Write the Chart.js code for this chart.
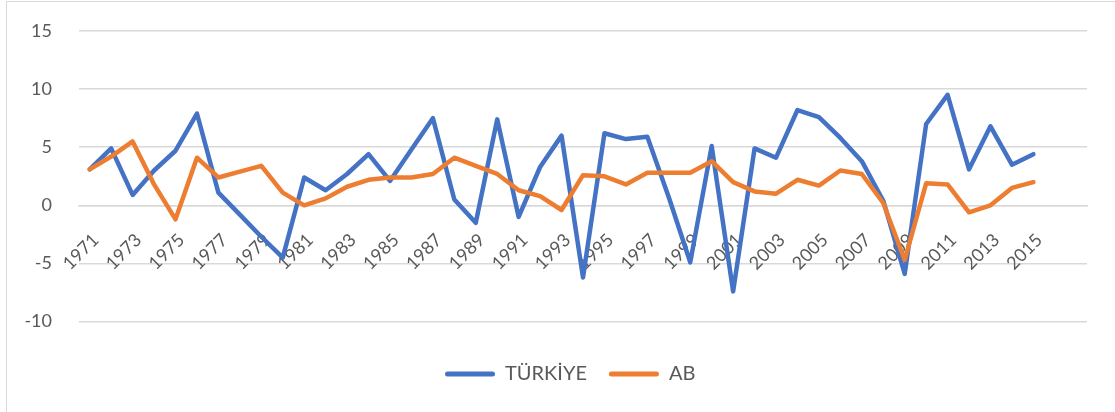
<!DOCTYPE html>
<html>
<head>
<meta charset="utf-8">
<script src="https://cdn.jsdelivr.net/npm/chart.js@4/dist/chart.umd.min.js"></script>
<style>
  html, body { margin: 0; padding: 0; background: #fff; overflow: hidden; }
  #wrap { position: relative; width: 1115px; height: 412px; }
  #frame { position: absolute; left: 6px; top: 1px; width: 1200px; height: 500px; border: 1px solid #d9d9d9; }
</style>
</head>
<body>
<div id="wrap">
  <div id="frame"></div>
  <canvas id="myChart"></canvas>
</div>
<script>
const years = [
  '1971', '1972', '1973', '1974', '1975', '1976', '1977', '1978', '1979', '1980',
  '1981', '1982', '1983', '1984', '1985', '1986', '1987', '1988', '1989', '1990',
  '1991', '1992', '1993', '1994', '1995', '1996', '1997', '1998', '1999', '2000',
  '2001', '2002', '2003', '2004', '2005', '2006', '2007', '2008', '2009', '2010',
  '2011', '2012', '2013', '2014', '2015'
];
// two blank rows at the end of the sheet range
const blankRows = ['', ''];

const turkiye = [
  3.1, 4.9, 0.9, 3.0, 4.7, 7.9, 1.1, -0.8, -2.7, -4.5,
  2.4, 1.3, 2.7, 4.4, 2.1, 4.8, 7.5, 0.5, -1.5, 7.4,
  -1.0, 3.3, 6.0, -6.2, 6.2, 5.7, 5.9, 0.7, -4.9, 5.1,
  -7.4, 4.9, 4.1, 8.2, 7.6, 5.8, 3.8, 0.4, -5.9, 7.0,
  9.5, 3.1, 6.8, 3.5, 4.4
];
const ab = [
  3.1, 4.2, 5.5, 1.8, -1.2, 4.1, 2.4, 2.9, 3.4, 1.1,
  0.0, 0.6, 1.6, 2.2, 2.4, 2.4, 2.7, 4.1, 3.4, 2.7,
  1.3, 0.8, -0.4, 2.6, 2.5, 1.8, 2.8, 2.8, 2.8, 3.8,
  2.0, 1.2, 1.0, 2.2, 1.7, 3.0, 2.7, 0.2, -4.7, 1.9,
  1.8, -0.6, 0.0, 1.5, 2.0
];
const yTicks = { min: -10, max: 15, step: 5 };

const textColor = '#595959';
const gridColor = '#d9d9d9';
const tickFont = { family: 'Lato', size: 18 };
const legendFont = { family: 'Lato', size: 20 };

const ctx = document.getElementById('myChart');

const myChart = new Chart(ctx, {
  type: 'line',
  data: {
    labels: years.concat(blankRows),
    datasets: [
      {
        label: 'TÜRKİYE',
        data: turkiye,
        borderColor: '#4472C4',
        backgroundColor: '#4472C4',
        borderWidth: 4.5,
        order: 1
      },
      {
        label: 'AB',
        data: ab,
        borderColor: '#ED7D31',
        backgroundColor: '#ED7D31',
        borderWidth: 4.5,
        order: 0 // drawn on top, like Excel
      }
    ]
  },
  options: {
    responsive: true,
    maintainAspectRatio: false,
    animation: false,
    layout: {
      padding: { left: 0, right: 28, top: 31, bottom: 18 }
    },
    elements: {
      point: { radius: 0 },
      line: { tension: 0, borderCapStyle: 'round', borderJoinStyle: 'round' }
    },
    scales: {
      x: {
        position: { y: 0 }, // axis crosses at zero
        offset: true,
        grid: { display: false, drawTicks: false },
        border: { display: true, color: gridColor, width: 1.5 },
        ticks: {
          color: textColor,
          font: tickFont,
          autoSkip: false,
          maxRotation: 45,
          minRotation: 45,
          padding: 24,
          labelOffset: 6,
          callback: function (value, index) {
            return index % 2 === 0 ? this.getLabelForValue(value) : '';
          }
        },
        afterFit: function (scale) {
          // rotated labels should not shrink the plot
          scale.paddingLeft = 0;
          scale.paddingRight = 0;
        }
      },
      y: {
        min: yTicks.min,
        max: yTicks.max,
        grid: { color: gridColor, lineWidth: 1.5, drawTicks: false },
        border: { display: false },
        ticks: {
          stepSize: yTicks.step,
          color: textColor,
          font: tickFont,
          padding: 27
        },
        afterFit: function (scale) {
          scale.width = 79;
          // tick padding should not push the plot down
          scale.paddingTop = 0;
          scale.paddingBottom = 0;
        }
      }
    },
    plugins: {
      legend: {
        position: 'bottom',
        fullSize: false,
        title: { display: true, text: '', padding: { top: 0, bottom: 6 } },
        labels: {
          color: textColor,
          font: legendFont,
          boxWidth: 50,
          boxHeight: 5,
          padding: 22,
          useBorderRadius: true,
          borderRadius: 2.5,
          sort: function (a, b) { return a.datasetIndex - b.datasetIndex; },
          generateLabels: function (chart) {
            const items = Chart.defaults.plugins.legend.labels.generateLabels(chart);
            items.forEach(function (item) {
              item.lineWidth = 0;
              // trailing spaces after the last entry nudge the centred row to the left
              if (item.datasetIndex === 1) item.text += '     ';
            });
            return items;
          }
        }
      },
      tooltip: { enabled: false }
    }
  }
});
</script>
</body>
</html>
